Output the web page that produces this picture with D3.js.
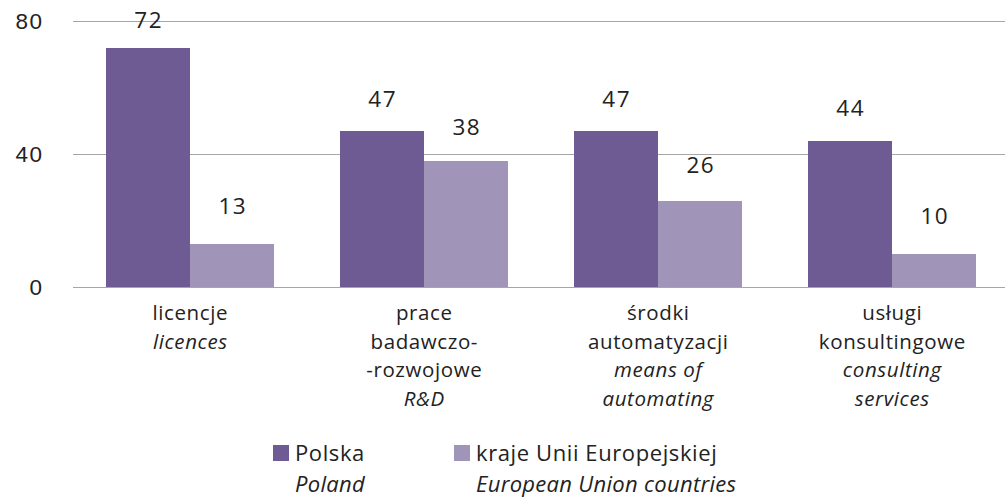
<!DOCTYPE html>
<html>
<head>
<meta charset="utf-8">
<script src="https://cdn.jsdelivr.net/npm/d3@7"></script>
<style>
  html, body { margin: 0; padding: 0; background: #fff; }
  svg { display: block; font-family: "Open Sans", "Liberation Sans", sans-serif; }
</style>
</head>
<body>
<svg id="chart" width="1005" height="499"></svg>
<script>
// Category labels: Polish lines, then English (italic) lines
const categoriesPl = [
  ["licencje"],
  ["prace", "badawczo-", "-rozwojowe"],
  ["środki", "automatyzacji"],
  ["usługi", "konsultingowe"]
];
const categoriesEn = [
  ["licences"],
  ["R&D"],
  ["means of", "automating"],
  ["consulting", "services"]
];
const seriesNames = ["Polska", "kraje Unii Europejskiej"];
const seriesNamesEn = ["Poland", "European Union countries"];
const polskaValues = [72, 47, 47, 44];
const euValues = [13, 38, 26, 10];
const yTicks = [0, 40, 80];

const colors = ["#6f5b93", "#a094b8"];
const textColor = "#222";
const numLS = 1.5;   // letter spacing for numbers, px
const txtLS = 0.6;   // letter spacing for words, px

const svg = d3.select("#chart");

const y = d3.scaleLinear().domain([0, 80]).range([287, 21]);
// value labels sit a little higher above short bars than tall ones
const yLabel = d3.scaleLinear().domain([0, 80]).range([255, 3]);

const idx = d3.range(categoriesPl.length);
const x = d3.scaleBand().domain(idx).range([73, 1009]).paddingInner(0.282).paddingOuter(0.141);
const xs = d3.scaleBand().domain([0, 1]).range([0, x.bandwidth()]);

// gridlines + y tick labels
const yAxis = d3.axisLeft(y).tickValues(yTicks).tickSize(-(1005 - 73)).tickPadding(31);
const gy = svg.append("g").attr("transform", "translate(73,0)").call(yAxis);
gy.select(".domain").remove();
gy.selectAll(".tick line").attr("stroke", "#a6a6a6").attr("stroke-width", 1).attr("shape-rendering", "crispEdges");
gy.selectAll(".tick text")
  .attr("fill", textColor)
  .attr("dx", numLS)
  .style("font-size", "22.5px")
  .style("letter-spacing", numLS + "px")
  .style("font-family", "inherit");

const data = idx.map(i => [polskaValues[i], euValues[i]]);

const groups = svg.append("g").selectAll("g").data(data).join("g")
  .attr("transform", (d, i) => `translate(${x(i)},0)`);

groups.selectAll("rect").data(d => d).join("rect")
  .attr("x", (d, j) => xs(j))
  .attr("width", xs.bandwidth())
  .attr("y", d => y(d))
  .attr("height", d => y(0) - y(d))
  .attr("fill", (d, j) => colors[j])
  .attr("shape-rendering", "crispEdges");

groups.selectAll("text.val").data(d => d).join("text")
  .attr("class", "val")
  .attr("x", (d, j) => xs(j) + xs.bandwidth() / 2)
  .attr("dx", numLS / 2)
  .attr("y", d => yLabel(d))
  .attr("text-anchor", "middle")
  .attr("fill", textColor)
  .style("font-size", "22.5px")
  .style("letter-spacing", numLS + "px")
  .text(d => d);

// zero baseline drawn over bars
svg.append("line")
  .attr("x1", 73).attr("x2", 1005)
  .attr("y1", y(0)).attr("y2", y(0))
  .attr("stroke", "#a6a6a6").attr("shape-rendering", "crispEdges");

// category labels
const lineH = 28.5;
idx.forEach(i => {
  const t = svg.append("text")
    .attr("text-anchor", "middle")
    .attr("fill", textColor)
    .style("font-size", "20.5px")
    .style("letter-spacing", txtLS + "px");
  const cx = x(i) + x.bandwidth() / 2 + txtLS / 2;
  const lines = categoriesPl[i].map(s => ({ s, it: false }))
    .concat(categoriesEn[i].map(s => ({ s, it: true })));
  lines.forEach((l, k) => {
    t.append("tspan")
      .attr("x", cx)
      .attr("y", 320 + k * lineH)
      .style("font-style", l.it ? "italic" : "normal")
      .text(l.s);
  });
});

// legend
const legendX = [273, 454];
const lg = svg.append("g").selectAll("g").data(seriesNames).join("g")
  .attr("transform", (d, i) => `translate(${legendX[i]},0)`);
lg.append("rect").attr("x", 0).attr("y", 445).attr("width", 16).attr("height", 16)
  .attr("fill", (d, i) => colors[i]);
lg.append("text").attr("x", 22).attr("y", 461).attr("fill", textColor)
  .style("font-size", "22px").style("letter-spacing", txtLS + "px").text(d => d);
lg.append("text").attr("x", 22).attr("y", 492).attr("fill", textColor)
  .style("font-size", "22px").style("letter-spacing", "0.3px").style("font-style", "italic")
  .text((d, i) => seriesNamesEn[i]);
</script>
</body>
</html>
